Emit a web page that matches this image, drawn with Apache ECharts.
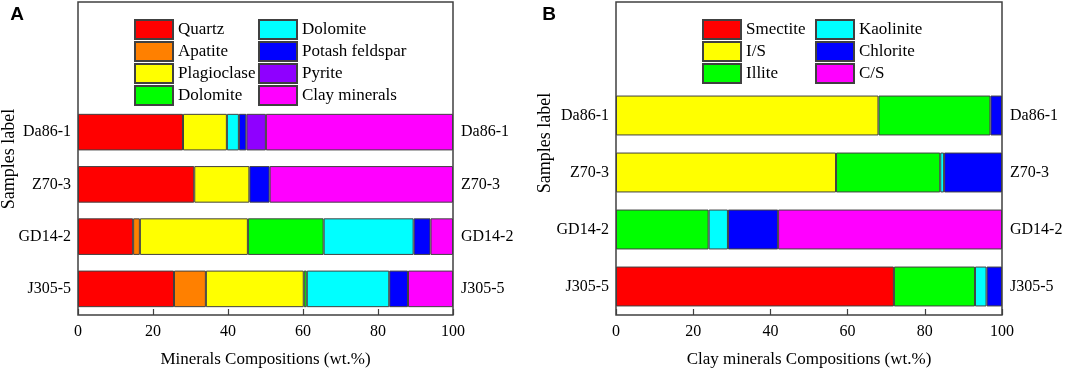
<!doctype html>
<html>
<head>
  <meta charset="utf-8" />
  <script src="https://cdn.jsdelivr.net/npm/echarts@6/dist/echarts.min.js"></script>
  <style>
    body { margin: 0; background: #ffffff; }
    #chart { width: 1065px; height: 368px; }
  </style>
</head>
<body>
  <div id="chart"></div>
  <script>
    // samples, top to bottom
    const samples = ["Da86-1", "Z70-3", "GD14-2", "J305-5"];
    const xTicks = [0, 20, 40, 60, 80, 100];

    // panel A: minerals compositions (wt.%)
    const quartz = [28.0, 31.0, 14.7, 25.6];
    const apatite = [null, null, 1.8, 8.5];
    const plagioclase = [11.7, 14.7, 28.8, 26.1];
    const dolomiteGreen = [null, null, 20.2, 0.8];
    const dolomiteCyan = [3.2, null, 24.0, 22.0];
    const potashFeldspar = [2.0, 5.4, 4.5, 5.0];
    const pyrite = [5.2, null, null, null];
    const clayMinerals = [49.9, 48.9, 6.0, 12.0];

    // panel B: clay minerals compositions (wt.%)
    const smectite = [null, null, null, 72];
    const illiteSmectite = [68, 57, null, null];
    const illite = [29, 27, 24, 21];
    const kaolinite = [null, 1, 5, 3];
    const chlorite = [3, 15, 13, 4];
    const chloriteSmectite = [null, null, 58, null];

    const serif = "'Liberation Serif', 'Times New Roman', serif";
    const edge = "#404040";

    const seriesA = [
      ["Quartz", quartz, "#ff0000"],
      ["Apatite", apatite, "#ff8000"],
      ["Plagioclase", plagioclase, "#ffff00"],
      ["Dolomite", dolomiteGreen, "#00ff00"],
      ["Dolomite ", dolomiteCyan, "#00ffff"],
      ["Potash feldspar", potashFeldspar, "#0000ff"],
      ["Pyrite", pyrite, "#8f00ff"],
      ["Clay minerals", clayMinerals, "#ff00ff"]
    ];
    const seriesB = [
      ["Smectite", smectite, "#ff0000"],
      ["I/S", illiteSmectite, "#ffff00"],
      ["Illite", illite, "#00ff00"],
      ["Kaolinite", kaolinite, "#00ffff"],
      ["Chlorite", chlorite, "#0000ff"],
      ["C/S", chloriteSmectite, "#ff00ff"]
    ];

    function bars(list, xi, yi, stack) {
      return list.map(([name, data, color]) => ({
        type: "bar",
        name,
        data,
        stack,
        xAxisIndex: xi,
        yAxisIndex: yi,
        barCategoryGap: "30%",
        itemStyle: { color, borderColor: edge, borderWidth: 1 },
        emphasis: { disabled: true }
      }));
    }

    function valueAxis(grid, title) {
      return {
        type: "value", gridIndex: grid, min: 0, max: 100, interval: 20,
        axisLine: { show: false },
        axisTick: { show: true, inside: true, length: 6, lineStyle: { color: edge, width: 1.2 } },
        axisLabel: { margin: 9, fontFamily: serif, fontSize: 16, color: "#000",
          customValues: xTicks },
        splitLine: { show: false },
        name: title, nameLocation: "middle", nameGap: 36,
        nameTextStyle: { fontFamily: serif, fontSize: 17, color: "#000" }
      };
    }

    function sampleAxis(grid, side, margin) {
      return {
        type: "category", gridIndex: grid, data: samples, inverse: true, position: side,
        axisLine: { show: false }, axisTick: { show: false },
        axisLabel: { margin, fontFamily: serif, fontSize: 16, color: "#000" }
      };
    }

    function legend(names, left) {
      return {
        data: names, left, top: 19, orient: "vertical", padding: 0,
        itemWidth: 38, itemHeight: 19, itemGap: 1, icon: "rect",
        selectedMode: false,
        formatter: (n) => n.trim(),
        textStyle: { fontFamily: serif, fontSize: 17, lineHeight: 19, color: "#000" }
      };
    }

    function label(text, x, y, rot, font) {
      return {
        type: "text", x, y, rotation: rot,
        style: { text, font, fill: "#000", align: "center", verticalAlign: "middle" }
      };
    }

    const fixed = { containLabel: false, outerBoundsMode: "none" };
    const frame = { show: true, borderColor: edge, borderWidth: 1.5, backgroundColor: "transparent" };

    const chart = echarts.init(document.getElementById("chart"), null, { renderer: "canvas" });
    chart.setOption({
      animation: false,
      backgroundColor: "#ffffff",
      grid: [
        Object.assign({ left: 78, top: 2, width: 375, height: 313 }, frame, fixed),
        Object.assign({ left: 78, top: 106, width: 375, height: 209 }, fixed),
        Object.assign({ left: 616, top: 2, width: 386, height: 313 }, frame, fixed),
        Object.assign({ left: 616, top: 87, width: 386, height: 228 }, fixed)
      ],
      xAxis: [
        { type: "value", gridIndex: 0, show: false },
        valueAxis(1, "Minerals Compositions (wt.%)"),
        { type: "value", gridIndex: 2, show: false },
        valueAxis(3, "Clay minerals Compositions (wt.%)")
      ],
      yAxis: [
        { type: "value", gridIndex: 0, show: false },
        sampleAxis(1, "left", 7),
        sampleAxis(1, "right", 8),
        { type: "value", gridIndex: 2, show: false },
        sampleAxis(3, "left", 7),
        sampleAxis(3, "right", 8)
      ],
      legend: [
        legend(["Quartz", "Apatite", "Plagioclase", "Dolomite"], 134),
        legend(["Dolomite ", "Potash feldspar", "Pyrite", "Clay minerals"], 258),
        legend(["Smectite", "I/S", "Illite"], 702),
        legend(["Kaolinite", "Chlorite", "C/S"], 815)
      ],
      graphic: [
        label("A", 17, 15, 0, "bold 19px 'Liberation Sans', Arial, sans-serif"),
        label("B", 549, 15, 0, "bold 19px 'Liberation Sans', Arial, sans-serif"),
        label("Samples label", 9, 159, Math.PI / 2, "18px " + serif),
        label("Samples label", 545, 143, Math.PI / 2, "18px " + serif)
      ],
      series: [...bars(seriesA, 1, 1, "a"), ...bars(seriesB, 3, 4, "b")]
    });
  </script>
</body>
</html>
